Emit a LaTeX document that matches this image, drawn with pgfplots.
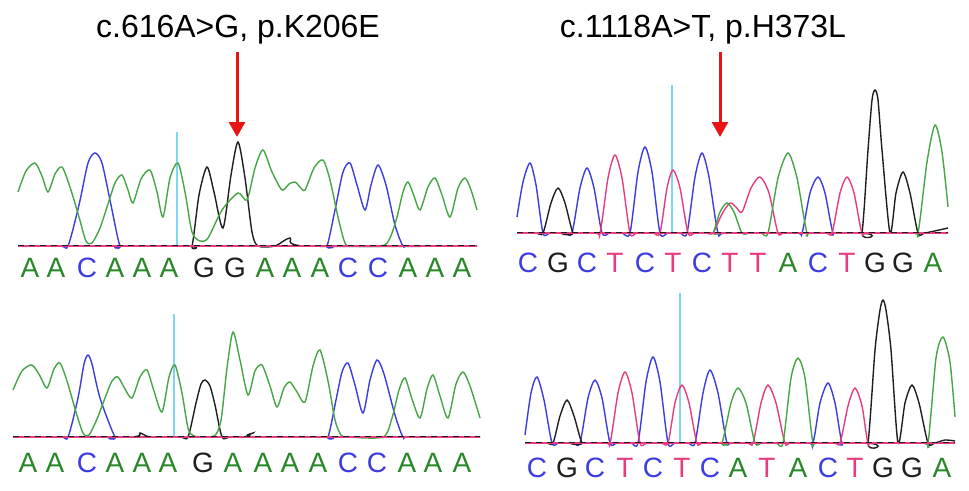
\documentclass[border=0pt]{standalone}
\usepackage{pgfplots}
\pgfplotsset{compat=1.18}
\usepackage{fontspec}
\setmainfont{Liberation Sans}
\usetikzlibrary{arrows.meta}
\definecolor{tG}{RGB}{70,165,70}
\definecolor{lG}{RGB}{40,135,40}
\definecolor{tB}{RGB}{60,60,225}
\definecolor{tP}{RGB}{232,60,130}
\definecolor{tK}{RGB}{30,30,30}
\definecolor{arr}{RGB}{232,20,20}
\definecolor{cy}{RGB}{125,215,240}
\newcommand{\bl}[4]{\node[anchor=base,inner sep=0pt,font=\fontsize{28}{30}\selectfont,text=#3] at (axis cs:#1,#2) {#4};}
\begin{document}
\begin{tikzpicture}
\begin{axis}[x=1pt,y=1pt,xmin=0,xmax=969,ymin=0,ymax=490,y dir=reverse,hide axis,clip=false,
  trace/.style={smooth,tension=0.45,line width=1.4pt,no marks}]
\path (axis cs:0,0) rectangle (axis cs:969,490);
% ---------- cyan markers ----------
\addplot[cy,line width=1.2pt,no marks] coordinates {(177,132) (177,245)};
\addplot[cy,line width=1.2pt,no marks] coordinates {(174,314) (174,437)};
\addplot[cy,line width=1.2pt,no marks] coordinates {(672,85) (672,233)};
\addplot[cy,line width=1.2pt,no marks] coordinates {(680,293) (680,443)};
% ================= Panel TL =================
\addplot[trace,tB] coordinates {(18,246) (60,246) (68,246) (79,205) (88,163) (95,153) (102,163) (111,205) (120,246) (128,246) (320,246) (327,246) (335,210) (343,172) (350,163) (357,185) (365,210) (371,185) (378,165) (386,185) (395,225) (403,246) (410,246) (477,246)};
\addplot[trace,tK] coordinates {(18,246) (185,246) (192,246) (199,195) (207,167) (214,192) (223,228) (231,175) (238,142) (245,178) (252,232) (258,246) (275,246) (290,238) (305,246) (477,246)};
\addplot[trace,tG] coordinates {(18,192) (26,171) (35,163) (42,176) (48,192) (55,174) (62,167) (70,187) (79,217) (86,241) (92,243) (100,228) (108,204) (115,183) (122,175) (128,190) (133,203) (141,179) (150,170) (157,192) (163,217) (170,178) (178,163) (185,192) (192,232) (200,241) (208,238) (222,210) (238,193) (247,200) (255,168) (263,150) (272,172) (282,190) (289,184) (295,182) (300,187) (305,190) (314,168) (323,160) (330,180) (338,217) (345,243) (352,246) (382,246) (390,238) (397,217) (403,192) (408,182) (414,196) (420,210) (428,187) (435,178) (442,195) (450,217) (458,188) (465,178) (471,190) (477,210)};
% ================= Panel BL =================
\addplot[trace,tB] coordinates {(13,437) (60,437) (68,437) (78,398) (84,364) (88,355) (92,364) (100,398) (115,437) (122,437) (320,437) (328,437) (336,400) (342,372) (348,363) (355,385) (363,413) (370,380) (377,360) (384,374) (395,415) (403,437) (410,437) (480,437)};
\addplot[trace,tK] coordinates {(13,437) (130,437) (140,433) (150,437) (180,437) (188,437) (196,403) (201,384) (205,380) (210,386) (215,405) (222,437) (230,437) (245,437) (253,433) (262,437) (480,437)};
\addplot[trace,tG] coordinates {(13,390) (22,371) (32,365) (40,376) (47,388) (54,369) (60,363) (67,381) (76,412) (83,433) (89,435) (97,419) (105,398) (112,381) (118,377) (125,389) (132,398) (140,377) (147,370) (154,391) (162,412) (169,377) (175,365) (182,393) (188,428) (194,436) (214,436) (221,420) (227,368) (233,332) (240,360) (248,395) (255,371) (262,365) (270,386) (277,407) (284,388) (290,382) (297,392) (305,402) (313,366) (320,350) (328,381) (335,420) (341,435) (348,437) (383,437) (392,418) (399,390) (405,378) (412,399) (420,418) (427,389) (433,375) (440,396) (448,418) (456,384) (463,372) (470,386) (480,418)};
% ================= Panel TR =================
\addplot[trace,tB] coordinates {(517,217) (523,182) (530,163) (536,185) (543,233) (550,233) (565,233) (572,233) (580,188) (587,168) (594,188) (602,233) (610,233) (622,233) (630,233) (638,172) (645,147) (652,172) (660,233) (668,233) (680,233) (687,233) (695,177) (702,153) (709,177) (718,233) (726,233) (795,233) (802,233) (810,193) (818,177) (825,193) (833,233) (840,233) (948,233)};
\addplot[trace,tK] coordinates {(517,233) (536,233) (543,233) (551,203) (558,188) (565,203) (573,233) (580,233) (855,233) (862,233) (868,150) (872,100) (875,90) (878,100) (882,150) (890,233) (896,193) (903,172) (910,193) (918,233) (925,233) (948,228)};
\addplot[trace,tP] coordinates {(517,233) (593,233) (600,233) (608,178) (615,155) (622,178) (630,233) (637,233) (653,233) (660,233) (667,188) (673,170) (680,188) (688,233) (695,233) (706,233) (713,233) (722,214) (730,203) (736,207) (742,212) (751,188) (760,177) (769,193) (778,233) (785,233) (825,233) (832,233) (840,193) (847,177) (854,193) (862,233) (870,233) (948,233)};
\addplot[trace,tG] coordinates {(517,233) (706,233) (713,233) (720,212) (727,203) (734,212) (742,233) (750,233) (761,233) (768,233) (778,178) (788,153) (797,178) (807,233) (814,233) (911,233) (918,233) (927,162) (935,125) (942,152) (948,207)};
% ================= Panel BR =================
\addplot[trace,tB] coordinates {(525,435) (531,393) (537,377) (544,400) (552,443) (559,443) (573,443) (580,443) (588,398) (595,380) (602,398) (610,443) (617,443) (631,443) (638,443) (646,382) (653,357) (660,382) (668,443) (675,443) (688,443) (695,443) (703,393) (710,370) (718,393) (727,443) (734,443) (806,443) (813,443) (820,403) (828,383) (835,403) (842,443) (849,443) (955,443)};
\addplot[trace,tK] coordinates {(525,443) (546,443) (553,443) (560,416) (567,400) (574,416) (582,443) (589,443) (861,443) (868,443) (875,350) (880,310) (883,300) (886,310) (891,350) (898,443) (905,403) (912,385) (919,403) (928,443) (935,443) (945,440) (955,441)};
\addplot[trace,tP] coordinates {(525,443) (603,443) (610,443) (618,393) (625,372) (632,393) (640,443) (647,443) (661,443) (668,443) (675,403) (682,385) (689,403) (697,443) (704,443) (746,443) (753,443) (761,403) (768,385) (776,403) (785,443) (792,443) (833,443) (840,443) (848,406) (855,388) (862,406) (868,443) (875,443) (955,443)};
\addplot[trace,tG] coordinates {(525,443) (715,443) (722,443) (731,403) (738,388) (746,403) (755,443) (762,443) (776,443) (783,443) (791,378) (798,358) (805,378) (813,443) (820,443) (921,443) (928,443) (936,358) (943,337) (950,362) (955,417)};
% ---------- baselines (drawn on top) ----------
\addplot[tP,line width=1.8pt,no marks] coordinates {(18,246) (477,246)};
\addplot[tK,line width=0.9pt,dash pattern=on 6pt off 5pt,no marks] coordinates {(18,245) (477,245)};
\addplot[tP,line width=1.8pt,no marks] coordinates {(13,437) (480,437)};
\addplot[tK,line width=0.9pt,dash pattern=on 6pt off 5pt,no marks] coordinates {(13,436) (480,436)};
\addplot[tP,line width=1.8pt,no marks] coordinates {(517,233) (948,233)};
\addplot[tK,line width=0.9pt,dash pattern=on 6pt off 5pt,no marks] coordinates {(517,232) (948,232)};
\addplot[tP,line width=1.8pt,no marks] coordinates {(525,443) (955,443)};
\addplot[tK,line width=0.9pt,dash pattern=on 6pt off 5pt,no marks] coordinates {(525,442) (955,442)};
% ---------- titles and arrows ----------
\node[anchor=base,inner sep=0pt,font=\fontsize{32}{34}\selectfont,text=black] at (axis cs:238,37) {c.616A>G, p.K206E};
\node[anchor=base,inner sep=0pt,font=\fontsize{32}{34}\selectfont,text=black] at (axis cs:703,37) {c.1118A>T, p.H373L};
\draw[arr,line width=3pt,-{Triangle[length=15pt,width=16pt]}] (axis cs:237,52) -- (axis cs:237,137);
\draw[arr,line width=3pt,-{Triangle[length=15pt,width=16pt]}] (axis cs:720,52) -- (axis cs:720,137);
% ---------- base letters TL ----------
\bl{30}{277}{lG}{A}\bl{56}{277}{lG}{A}\bl{87}{277}{tB}{C}\bl{115}{277}{lG}{A}\bl{142}{277}{lG}{A}\bl{169}{277}{lG}{A}
\bl{204}{277}{tK}{G}\bl{235}{277}{tK}{G}\bl{265}{277}{lG}{A}\bl{292}{277}{lG}{A}\bl{320}{277}{lG}{A}\bl{348}{277}{tB}{C}
\bl{378}{277}{tB}{C}\bl{408}{277}{lG}{A}\bl{435}{277}{lG}{A}\bl{462}{277}{lG}{A}
% ---------- base letters BL ----------
\bl{28}{472}{lG}{A}\bl{55}{472}{lG}{A}\bl{87}{472}{tB}{C}\bl{115}{472}{lG}{A}\bl{142}{472}{lG}{A}\bl{168}{472}{lG}{A}
\bl{203}{472}{tK}{G}\bl{233}{472}{lG}{A}\bl{263}{472}{lG}{A}\bl{290}{472}{lG}{A}\bl{318}{472}{lG}{A}\bl{348}{472}{tB}{C}
\bl{377}{472}{tB}{C}\bl{407}{472}{lG}{A}\bl{433}{472}{lG}{A}\bl{462}{472}{lG}{A}
% ---------- base letters TR ----------
\bl{528}{272}{tB}{C}\bl{558}{272}{tK}{G}\bl{587}{272}{tB}{C}\bl{615}{272}{tP}{T}\bl{645}{272}{tB}{C}\bl{673}{272}{tP}{T}
\bl{702}{272}{tB}{C}\bl{730}{272}{tP}{T}\bl{758}{272}{tP}{T}\bl{788}{272}{lG}{A}\bl{818}{272}{tB}{C}\bl{847}{272}{tP}{T}
\bl{875}{272}{tK}{G}\bl{903}{272}{tK}{G}\bl{933}{272}{lG}{A}
% ---------- base letters BR ----------
\bl{537}{477}{tB}{C}\bl{567}{477}{tK}{G}\bl{595}{477}{tB}{C}\bl{625}{477}{tP}{T}\bl{653}{477}{tB}{C}\bl{682}{477}{tP}{T}
\bl{710}{477}{tB}{C}\bl{738}{477}{lG}{A}\bl{767}{477}{tP}{T}\bl{798}{477}{lG}{A}\bl{828}{477}{tB}{C}\bl{855}{477}{tP}{T}
\bl{883}{477}{tK}{G}\bl{912}{477}{tK}{G}\bl{942}{477}{lG}{A}
\end{axis}
\end{tikzpicture}
\end{document}
